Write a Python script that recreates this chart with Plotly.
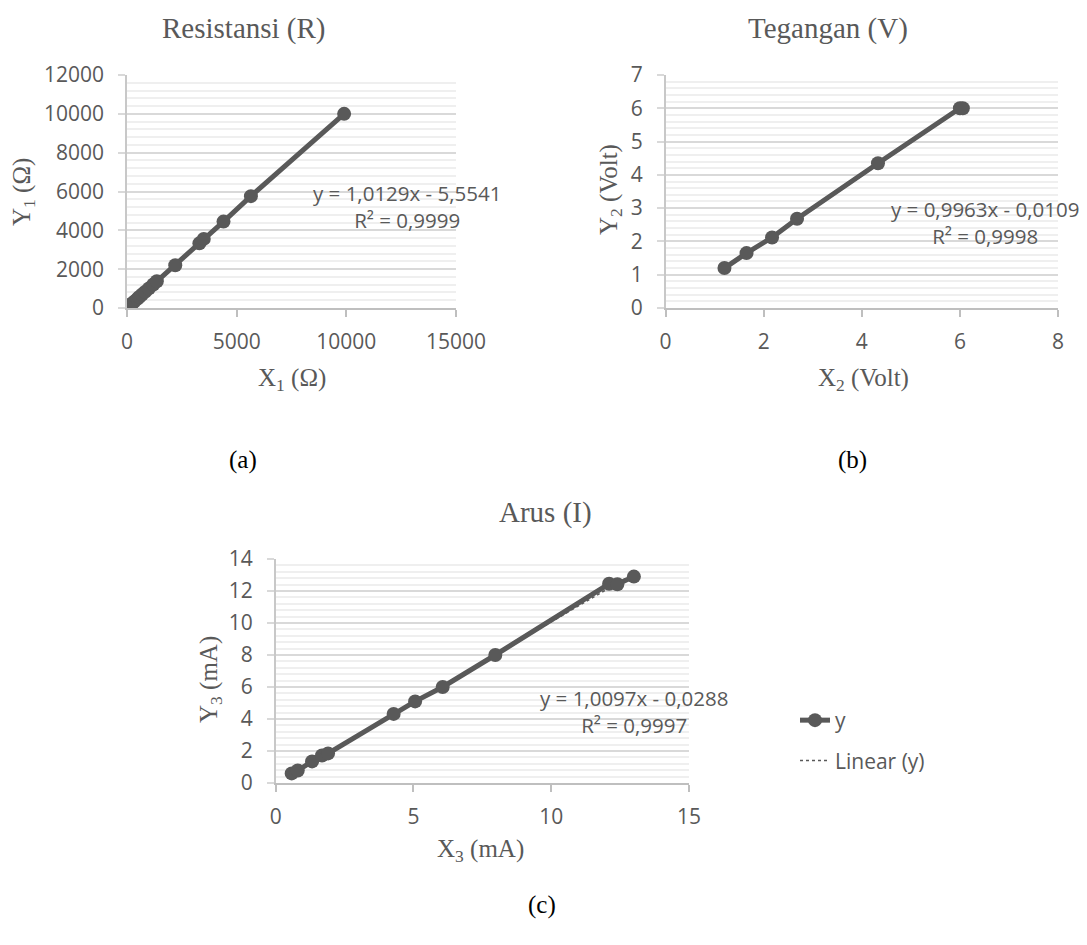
import plotly.graph_objects as go

# ---------------- data ----------------
# (a) Resistansi
x1 = [100, 160, 230, 330, 470, 560, 680, 820, 1000, 1200, 1360, 2200, 3300, 3500, 4400, 5650, 9900]
y1 = [100, 160, 230, 330, 470, 570, 690, 830, 1010, 1210, 1380, 2200, 3330, 3560, 4450, 5760, 10000]
# (b) Tegangan
x2 = [1.2, 1.65, 2.17, 2.68, 4.33, 6.0, 6.06]
y2 = [1.2, 1.65, 2.12, 2.68, 4.35, 6.0, 6.0]
# (c) Arus
x3 = [0.58, 0.8, 1.32, 1.68, 1.9, 4.28, 5.06, 6.06, 7.97, 12.1, 12.4, 13.0]
y3 = [0.6, 0.78, 1.35, 1.72, 1.85, 4.32, 5.1, 6.0, 8.0, 12.45, 12.42, 12.9]

slopes = [1.0129, 0.9963, 1.0097]
intercepts = [-5.5541, -0.0109, -0.0288]
eq_texts = ["y = 1,0129x - 5,5541<br>R² = 0,9999",
            "y = 0,9963x - 0,0109<br>R² = 0,9998",
            "y = 1,0097x - 0,0288<br>R² = 0,9997"]
titles = ["Resistansi (R)", "Tegangan (V)", "Arus (I)"]
xtitles = ["X<sub>1</sub> (Ω)", "X<sub>2</sub> (Volt)", "X<sub>3</sub> (mA)"]
ytitles = ["Y<sub>1</sub> (Ω)", "Y<sub>2</sub> (Volt)", "Y<sub>3</sub> (mA)"]
captions = ["(a)", "(b)", "(c)"]

# ---------------- layout helpers ----------------
W, H = 1087, 945
OFF = 8  # page body margin
def px_x(p): return (p - OFF) / W
def px_y(p): return 1 - (p - OFF) / H

GRAY = "#595959"
SERIES = "#595959"
TICKFONT = dict(family="Open Sans", size=21, color=GRAY)
SERIF = "Liberation Serif"

panels = [
    dict(xs=x1, ys=y1, xdom=[127, 456], ydom=[75, 308], xr=[0, 15000], xd=5000,
         yr=[0, 12000], yd=2000, ym=400,
         title=(244, 28), xt=(292, 380), yt=(23, 192), eq=(407, 206), cap=(243, 460)),
    dict(xs=x2, ys=y2, xdom=[665.6, 1058], ydom=[75, 308], xr=[0, 8], xd=2,
         yr=[0, 7], yd=1, ym=0.2,
         title=(828, 28), xt=(863, 380), yt=(610, 190), eq=(985, 222), cap=(852, 460)),
    dict(xs=x3, ys=y3, xdom=[275.7, 689], ydom=[559, 783], xr=[0, 15], xd=5,
         yr=[0, 14], yd=2, ym=0.4,
         title=(545, 512), xt=(480, 850), yt=(210, 680), eq=(634, 711), cap=(542, 905)),
]

fig = go.Figure()
layout = dict(width=W, height=H,
              margin=dict(l=0, r=0, t=0, b=0, pad=0, autoexpand=False),
              paper_bgcolor="white", plot_bgcolor="white", annotations=[])

def ann(text, x, y, font, angle=0, align="center"):
    return dict(text=text, x=px_x(x), y=px_y(y), xref="paper", yref="paper",
                xanchor="center", yanchor="middle", showarrow=False,
                textangle=angle, align=align, font=font)

for i, p in enumerate(panels):
    k = "" if i == 0 else str(i + 1)
    xa, ya = "x" + k, "y" + k
    show = (i == 2)
    # linear trendline (dotted) under the series
    xmin, xmax = min(p["xs"]), max(p["xs"])
    tx = [xmin, xmax]
    ty = [slopes[i] * v + intercepts[i] for v in tx]
    fig.add_trace(go.Scatter(x=tx, y=ty, mode="lines", name="Linear (y)",
                             line=dict(color=SERIES, width=1.5, dash="dot"),
                             xaxis=xa, yaxis=ya, showlegend=show, legendrank=2,
                             legendgroup="b"))
    fig.add_trace(go.Scatter(x=p["xs"], y=p["ys"], mode="lines+markers", name="y",
                             line=dict(color=SERIES, width=5),
                             marker=dict(color=SERIES, size=14),
                             xaxis=xa, yaxis=ya, showlegend=show, legendrank=1,
                             legendgroup="a"))
    layout["xaxis" + k] = dict(
        domain=[px_x(p["xdom"][0]), px_x(p["xdom"][1])], anchor=ya,
        range=p["xr"], dtick=p["xd"], tick0=0, tickformat="d",
        showgrid=False, zeroline=False,
        showline=True, linecolor="#bfbfbf", linewidth=1.5,
        ticks="outside", ticklen=7, tickcolor="#bfbfbf", tickwidth=1.5,
        tickfont=TICKFONT, ticklabelstandoff=7, fixedrange=True)
    layout["yaxis" + k] = dict(
        domain=[px_y(p["ydom"][1]), px_y(p["ydom"][0])], anchor=xa,
        range=p["yr"], dtick=p["yd"], tick0=0, tickformat="d",
        showgrid=True, gridcolor="#d9d9d9",
        gridwidth=1.5, zeroline=False, showline=True, linecolor="#c8c8c8",
        linewidth=1.5, ticks="outside", ticklen=7, tickcolor="#d9d9d9",
        tickwidth=1.5, tickfont=TICKFONT, ticklabelstandoff=10,
        minor=dict(dtick=p["ym"], tick0=0, showgrid=True, gridcolor="#efefef",
                   gridwidth=1.5, ticks=""),
        fixedrange=True)
    A = layout["annotations"]
    A.append(ann(titles[i], *p["title"], dict(family=SERIF, size=29, color=GRAY)))
    A.append(ann(xtitles[i], *p["xt"], dict(family=SERIF, size=25, color=GRAY)))
    A.append(ann(ytitles[i], *p["yt"], dict(family=SERIF, size=25, color=GRAY), angle=-90))
    A.append(ann(eq_texts[i], *p["eq"], dict(family="Open Sans", size=20.5, color=GRAY)))
    A.append(ann(captions[i], *p["cap"], dict(family=SERIF, size=25, color="black")))

layout["showlegend"] = True
layout["legend"] = dict(x=px_x(795), y=px_y(700), xanchor="left", yanchor="top",
                        font=dict(family="Open Sans", size=21, color=GRAY),
                        bgcolor="rgba(0,0,0,0)", tracegroupgap=10,
                        traceorder="grouped")
fig.update_layout(**layout)
fig.write_html("out.html")
